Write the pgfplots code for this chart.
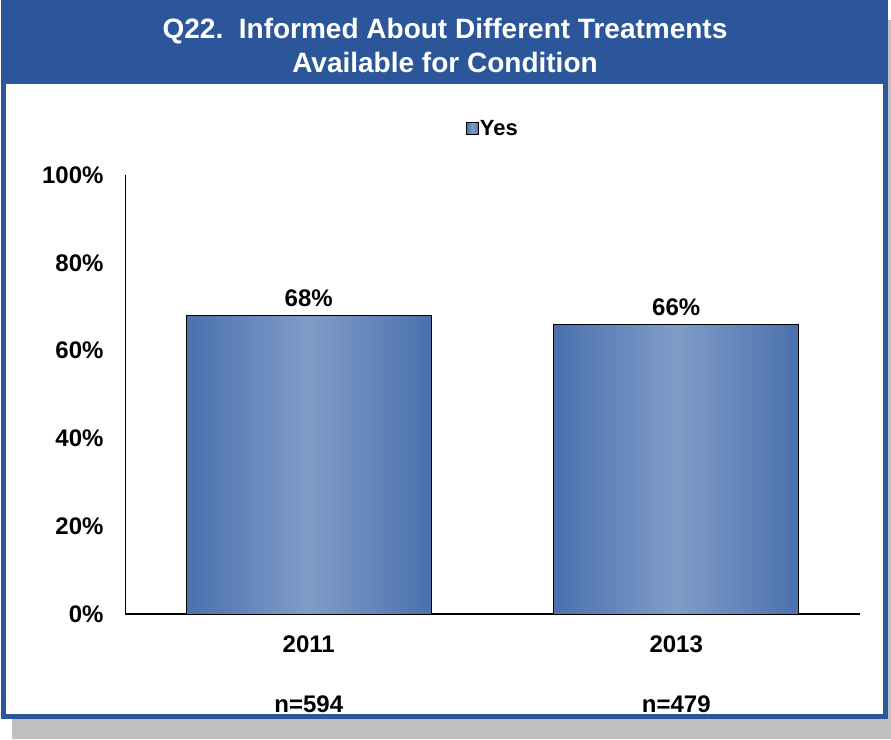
\documentclass[border=0pt]{standalone}
\usepackage{fontspec}
\setmainfont{Liberation Sans}
\usepackage{pgfplots}
\pgfplotsset{compat=1.18}
\definecolor{frameblue}{RGB}{43,87,154}
\definecolor{bardark}{RGB}{74,112,173}
\definecolor{barlight}{RGB}{128,157,201}
\definecolor{shadowgray}{RGB}{191,191,191}
\begin{document}
\begin{tikzpicture}[x=1pt,y=1pt]
\useasboundingbox (0,0) rectangle (891,739);
\fill[shadowgray] (12,0) rectangle (891,719);
\fill[frameblue] (1,20) rectangle (888,739);
\fill[white] (6,25) rectangle (883,655);
\node[white, font=\fontsize{28}{34}\selectfont\bfseries, align=center] at (445,694) {Q22.\ \ Informed About Different Treatments\\Available for Condition};
\begin{axis}[at={(125pt,125pt)}, anchor=south west, scale only axis, width=735pt, height=439pt,
 xmin=-0.5, xmax=1.5, ymin=0, ymax=100,
 axis x line*=bottom, axis y line*=left,
 axis line style={black, line width=1pt, -},
 x axis line style={line width=1.8pt},
 xtick={0,1}, xticklabels={{2011\\[32pt]n=594},{2013\\[32pt]n=479}},
 ytick={0,20,...,100}, yticklabel={\pgfmathprintnumber{\tick}\%},
 major tick length=0pt,
 /pgf/number format/assume math mode=true,
 tick label style={font=\fontsize{24}{28}\selectfont\bfseries},
 xticklabel style={align=center, anchor=north, yshift=-18pt},
 yticklabel style={anchor=east, xshift=-18pt},
 legend style={draw=none, fill=none, at={(0.5,1)}, anchor=south, yshift=34pt,
   font=\fontsize{22}{26}\selectfont\bfseries, nodes={inner xsep=1pt}},
 legend image code/.code={\draw[black, line width=0.8pt, left color=bardark, right color=bardark, middle color=barlight] (0pt,-6pt) rectangle (12pt,6pt);},
 clip=false,
]
\addplot[ybar, bar width=245pt, draw=black, line width=0.8pt,
  left color=bardark, right color=bardark, middle color=barlight,
  nodes near coords={\pgfmathprintnumber{\pgfplotspointmeta}\%},
  nodes near coords style={font=\fontsize{24}{28}\selectfont\bfseries, black, anchor=south, yshift=5pt},
  point meta=explicit symbolic]
 coordinates {(0,68) [68]};
\addlegendentry{Yes}
\addplot[ybar, bar width=245pt, draw=black, line width=0.8pt, forget plot,
  left color=bardark, right color=bardark, middle color=barlight,
  nodes near coords={\pgfmathprintnumber{\pgfplotspointmeta}\%},
  nodes near coords style={font=\fontsize{24}{28}\selectfont\bfseries, black, anchor=south, yshift=5pt},
  point meta=explicit symbolic]
 coordinates {(1,66) [66]};
\end{axis}
\end{tikzpicture}
\end{document}
